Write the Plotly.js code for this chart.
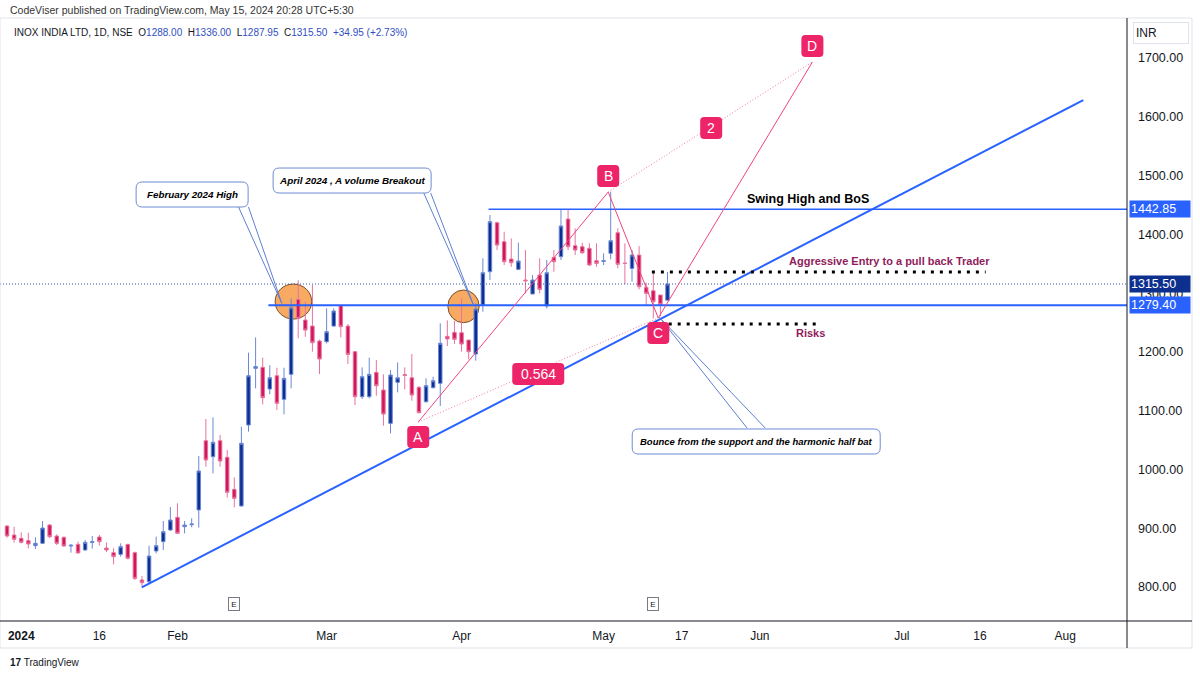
<!DOCTYPE html>
<html><head><meta charset="utf-8">
<script src="https://cdn.plot.ly/plotly-3.0.1.min.js"></script>
<style>html,body{margin:0;padding:0;background:#fff}#chart{width:1200px;height:675px}</style>
</head><body><div id="chart"></div>
<script>
// ---- candle data (INOX INDIA LTD, 1D, NSE) ----
const dates = ['2023-12-28','2023-12-29','2024-01-01','2024-01-02','2024-01-03','2024-01-04','2024-01-05','2024-01-08','2024-01-09','2024-01-10',
'2024-01-11','2024-01-12','2024-01-15','2024-01-16','2024-01-17','2024-01-18','2024-01-19','2024-01-20','2024-01-23','2024-01-24',
'2024-01-25','2024-01-29','2024-01-30','2024-01-31','2024-02-01','2024-02-02','2024-02-05','2024-02-06','2024-02-07','2024-02-08',
'2024-02-09','2024-02-12','2024-02-13','2024-02-14','2024-02-15','2024-02-16','2024-02-19','2024-02-20','2024-02-21','2024-02-22',
'2024-02-23','2024-02-26','2024-02-27','2024-02-28','2024-02-29','2024-03-01','2024-03-02','2024-03-04','2024-03-05','2024-03-06',
'2024-03-07','2024-03-11','2024-03-12','2024-03-13','2024-03-14','2024-03-15','2024-03-18','2024-03-19','2024-03-20','2024-03-21',
'2024-03-22','2024-03-26','2024-03-27','2024-03-28','2024-04-01','2024-04-02','2024-04-03','2024-04-04','2024-04-05','2024-04-08',
'2024-04-09','2024-04-10','2024-04-12','2024-04-15','2024-04-16','2024-04-18','2024-04-19','2024-04-22','2024-04-23','2024-04-24',
'2024-04-25','2024-04-26','2024-04-29','2024-04-30','2024-05-02','2024-05-03','2024-05-06','2024-05-07','2024-05-08','2024-05-09',
'2024-05-10','2024-05-13','2024-05-14','2024-05-15'];
const open = [903.8,888.5,882.9,878.9,870.4,874.3,905.5,886.8,884.6,869.8,
872.6,863.0,875.8,885.1,866.4,858.5,855.6,872.6,858.5,812.0,
809.1,861.3,877.2,897.0,918.6,902.7,906.0,931.1,1049.0,1021.8,
1049.0,1020.7,966.2,937.9,1075.6,1172.0,1173.7,1136.9,1159.5,1119.3,
1161.8,1289.4,1254.3,1244.0,1218.5,1217.4,1244.0,1278.6,1244.0,1200.4,
1123.8,1123.8,1165.2,1135.2,1078.4,1148.2,1161.5,1156.1,1139.7,1115.3,
1139.1,1146.5,1226.5,1233.3,1232.7,1220.2,1196.4,1279.8,1336.5,1419.8,
1387.5,1358.0,1340.4,1322.3,1298.5,1330.8,1278.1,1360.9,1362.0,1426.1,
1380.7,1379.0,1376.2,1355.2,1354.0,1367.7,1402.8,1351.0,1342.1,1364.8,
1309.8,1304.1,1296.8,1288.00];
const high = [905.0,902.7,893.1,892.5,884.6,912.3,907.2,889.7,885.7,873.2,
877.2,880.0,886.8,888.5,876.0,865.9,874.3,873.2,860.2,818.8,
870.4,885.7,912.3,936.2,942.4,912.3,916.9,1022.9,1085.9,1088.7,
1058.7,1033.1,986.6,1072.8,1198.7,1224.8,1190.2,1177.1,1173.1,1173.1,
1291.1,1322.0,1285.4,1313.8,1221.0,1274.1,1274.1,1279.5,1247.4,1201.5,
1173.7,1190.2,1186.2,1161.8,1169.2,1182.2,1173.7,1196.4,1142.0,1155.0,
1157.8,1248.6,1253.7,1253.1,1291.1,1220.2,1282.6,1359.2,1432.9,1421.5,
1404.5,1393.2,1385.8,1373.3,1330.8,1359.2,1356.3,1373.3,1442.5,1442.85,
1410.2,1385.8,1384.7,1384.7,1367.7,1472.5,1410.2,1384.7,1373.3,1380.1,
1317.8,1336.5,1297.0,1336.00];
const low = [884.0,875.5,874.3,865.8,864.7,873.2,882.9,871.5,868.7,858.5,
857.3,861.9,865.3,870.4,859.6,838.6,851.7,847.1,812.0,801.8,
806.3,857.3,863.0,895.3,890.2,891.4,901.6,901.0,1004.8,993.4,
1004.8,952.0,935.6,936.7,1064.3,1138.0,1110.8,1127.8,1101.1,1093.8,
1138.0,1223.1,1225.9,1200.4,1162.4,1214.5,1242.9,1224.8,1179.4,1109.6,
1119.8,1121.0,1125.5,1074.5,1061.4,1131.2,1136.3,1117.0,1095.5,1113.6,
1138.0,1107.9,1210.0,1213.4,1200.4,1187.3,1185.1,1268.4,1322.3,1373.3,
1347.8,1345.0,1339.3,1299.6,1298.5,1299.6,1274.1,1336.5,1356.3,1373.3,
1364.8,1366.5,1346.1,1345.0,1347.8,1357.5,1342.1,1315.5,1319.5,1306.4,
1278.1,1257.1,1261.0,1287.95];
const close = [886.8,881.2,876.0,873.2,874.3,900.4,885.7,874.3,869.8,871.0,
857.9,876.0,877.2,877.2,863.0,851.7,868.7,848.8,814.8,807.4,
852.8,870.4,894.2,914.0,891.4,905.5,907.2,997.4,1016.1,1046.2,
1014.4,961.1,950.9,1044.5,1159.5,1175.0,1122.1,1156.1,1112.5,1155.0,
1275.2,1257.1,1237.2,1215.7,1187.9,1234.4,1269.6,1242.9,1195.8,1123.8,
1157.8,1161.8,1142.5,1094.3,1160.7,1156.1,1160.0,1126.7,1096.6,1142.5,
1151.0,1214.6,1222.0,1221.4,1213.4,1200.4,1273.0,1334.8,1421.5,1381.8,
1353.5,1351.8,1354.6,1321.0,1322.3,1306.4,1334.8,1353.5,1414.2,1379.0,
1373.3,1368.8,1347.8,1350.6,1355.2,1389.2,1349.0,1350.6,1364.8,1311.0,
1299.6,1285.4,1280.55,1315.50];

// ---- axis ticks ----
const tickDates = ['2024-01-01','2024-01-16','2024-02-01','2024-03-01','2024-04-01','2024-05-02','2024-05-17','2024-06-03','2024-07-01','2024-07-16','2024-08-01'];
const tickText = ['<b>2024</b>','16','Feb','Mar','Apr','May','17','Jun','Jul','16','Aug'];
const priceTicks = [800,900,1000,1100,1200,1300,1400,1500,1600,1700];
const earningsDates = ['2024-02-13','2024-05-13'];

// ---- key levels ----
const levelPrices = [1442.85, 1279.40];
const levelStartBar = [67.8, 36.8];
const lastPrice = 1315.50;
const entryLevel = 1336.0, entryBars = [90.8, 137.8];
const riskLevel = 1247.5, riskBars = [91.9, 114.7];
const trendBars = [18.97, 151.55], trendPrices = [799.5, 1628.5];

// ---- harmonic half bat ----
const patternLabels = ['A','B','C','D'];
const patternBar = [57.9, 84.65, 91.7, 113.4];
const patternPrice = [1080.7, 1472.0, 1257.7, 1693.2];
const ratioLabels = ['0.564','2'];
const ratioBar = [74.8, 99.15];
const ratioPrice = [1162.4, 1580.9];

// ---- callouts ----
const calloutText = ['February 2024 High','April 2024 , A volume Breakout','Bounce from the support and the harmonic half bat'];
const calloutBar = [26.06, 48.59, 105.49];
const calloutPrice = [1467.8, 1491.6, 1047.6];
const calloutTargetBar = [38.69, 65.68, 91.87];
const calloutTargetPrice = [1282.7, 1279.8, 1258.9];
const calloutAnchorBar = [[32.6, 34.0], [58.68, 59.66], [104.2, 106.76]];
const calloutAnchorPrice = [1446.5, 1470.3, 1070.5];
const circleBars = [[37.75, 42.9], [62.07, 66.48]];
const circlePrices = [[1255.9, 1315.5], [1249.7, 1305.3]];

// build full trading-day list (future = weekdays)
const allDates = dates.slice();
{ let d = new Date(Date.UTC(2024,4,16));
  while (allDates.length < 170) { const wd = d.getUTCDay(); if (wd !== 0 && wd !== 6) allDates.push(d.toISOString().slice(0,10)); d.setUTCDate(d.getUTCDate()+1); } }
const barOf = s => allDates.indexOf(s);
const xIdx = dates.map((_, i) => i);

const XR = [-0.99, 157.7], YR = [742.2, 1768.1];
const UP = '#0d2f91', DN = '#d1175c', PINK = '#ee2468', BLUE = '#2962ff';

const trace = {
  type: 'candlestick', x: xIdx, open, high, low, close,
  increasing: {line: {color: '#6a88d4', width: 1}, fillcolor: UP},
  decreasing: {line: {color: '#e8739d', width: 1}, fillcolor: DN},
  whiskerwidth: 0, hoverinfo: 'skip'
};

const shapes = [];
// rounded box in pixel units around a data anchor
function roundBox(x, y, w, h, r, dy, fill, lineColor) {
  const a = -w/2, b = w/2, c = dy - h/2, d = dy + h/2;
  const path = `M${a+r},${c} L${b-r},${c} Q${b},${c} ${b},${c+r} L${b},${d-r} Q${b},${d} ${b-r},${d} L${a+r},${d} Q${a},${d} ${a},${d-r} L${a},${c+r} Q${a},${c} ${a+r},${c} Z`;
  shapes.push({type:'path', xref:'x', yref:'y', xsizemode:'pixel', ysizemode:'pixel', xanchor:x, yanchor:y, path,
    fillcolor:fill, line:{color: lineColor || fill, width: lineColor ? 1 : 0}, layer:'above'});
}
// orange circles
circleBars.forEach((b, i) => shapes.push({type:'circle', xref:'x', yref:'y', x0:b[0], x1:b[1], y0:circlePrices[i][0], y1:circlePrices[i][1],
  fillcolor:'rgba(247,163,86,0.92)', line:{color:'#7a4e26', width:1}, layer:'below'}));
// last price dotted line
shapes.push({type:'line', xref:'x', yref:'y', x0:XR[0], x1:XR[1], y0:lastPrice, y1:lastPrice, line:{color:'#3652b0', width:1, dash:'1px,2px'}});
// levels
levelPrices.forEach((p, i) => shapes.push({type:'line', xref:'x', yref:'y', x0:levelStartBar[i], x1:XR[1], y0:p, y1:p, line:{color:BLUE, width: i===0?1.5:2}}));
// trend line
shapes.push({type:'line', xref:'x', yref:'y', x0:trendBars[0], x1:trendBars[1], y0:trendPrices[0], y1:trendPrices[1], line:{color:BLUE, width:2}});
// entry / risk dotted
shapes.push({type:'line', xref:'x', yref:'y', x0:entryBars[0], x1:entryBars[1], y0:entryLevel, y1:entryLevel, line:{color:'#000', width:3, dash:'3px,6px'}});
shapes.push({type:'line', xref:'x', yref:'y', x0:riskBars[0], x1:riskBars[1], y0:riskLevel, y1:riskLevel, line:{color:'#000', width:3, dash:'3px,6px'}});
// harmonic lines
for (let i = 0; i < 3; i++) shapes.push({type:'line', xref:'x', yref:'y', x0:patternBar[i], x1:patternBar[i+1], y0:patternPrice[i], y1:patternPrice[i+1], line:{color:'#f0457e', width:1}});
[[0,2],[1,3]].forEach(([a,b]) => shapes.push({type:'line', xref:'x', yref:'y', x0:patternBar[a], x1:patternBar[b], y0:patternPrice[a], y1:patternPrice[b], line:{color:'#f47ca3', width:1, dash:'1px,2px'}}));
// callout lines
calloutAnchorBar.forEach((ab, i) => ab.forEach(bx => shapes.push({type:'line', xref:'x', yref:'y', x0:bx, y0:calloutAnchorPrice[i], x1:calloutTargetBar[i], y1:calloutTargetPrice[i], line:{color:'#5f7fcf', width:1}})));
// pane frame
const PX = 1127, PH = 603, PB = 621;
const px = v => v / PX, py = v => (PB - v) / PH;
shapes.push({type:'rect', xref:'paper', yref:'paper', x0:0, x1:px(1192), y0:py(648), y1:py(18), line:{color:'#e0e3eb', width:1}, fillcolor:'rgba(0,0,0,0)'});
shapes.push({type:'line', xref:'paper', yref:'paper', x0:1, x1:1, y0:py(648), y1:py(18), line:{color:'#131722', width:1}});
shapes.push({type:'line', xref:'paper', yref:'paper', x0:0, x1:px(1192), y0:0, y1:0, line:{color:'#131722', width:1}});

const annotations = [];
// header
annotations.push({xref:'paper', yref:'paper', x:px(8), y:py(10), xanchor:'left', yanchor:'middle', showarrow:false,
  text:'CodeViser published on TradingView.com, May 15, 2024 20:28 UTC+5:30', font:{size:10.5, color:'#333'}});
const VC = '#2f4fbf';
annotations.push({xref:'paper', yref:'paper', x:px(12), y:py(32), xanchor:'left', yanchor:'middle', showarrow:false,
  text:'INOX INDIA LTD, 1D, NSE  O<span style="color:'+VC+'">'+open[93].toFixed(2)+'</span>  H<span style="color:'+VC+'">'+high[93].toFixed(2)+
  '</span>  L<span style="color:'+VC+'">'+low[93].toFixed(2)+'</span>  C<span style="color:'+VC+'">'+close[93].toFixed(2)+
  '</span>  <span style="color:'+VC+'">+'+(close[93]-close[92]).toFixed(2)+' (+'+((close[93]-close[92])/close[92]*100).toFixed(2)+'%)</span>',
  font:{size:10, color:'#131722'}});
// INR box
annotations.push({xref:'paper', yref:'paper', x:px(1133), y:py(33), xanchor:'left', yanchor:'middle', showarrow:false, text:'INR',
  font:{size:12, color:'#131722'}, bordercolor:'#e0e3eb', borderwidth:1, borderpad:2, bgcolor:'#fff', width:50, height:16, align:'left'});
// price labels
const priceBoxes = [[levelPrices[0], BLUE], [lastPrice, '#0d2f8e'], [levelPrices[1], BLUE]];
priceBoxes.forEach(([p, c]) => annotations.push({xref:'paper', yref:'y', x:px(1129), y:p, xanchor:'left', yanchor:'middle', showarrow:false,
  text:p.toFixed(2), font:{size:12.5, color:'#fff'}, bgcolor:c, borderpad:1, width:58, height:14, align:'left'}));
// earnings markers
earningsDates.forEach(d => annotations.push({xref:'x', yref:'paper', x:barOf(d), y:py(611), showarrow:false, text:'E',
  font:{size:8, color:'#131722'}, bordercolor:'#787b86', borderwidth:1, borderpad:1, bgcolor:'#fff', width:8, height:10}));
// TradingView mark
annotations.push({xref:'paper', yref:'paper', x:px(8), y:py(662), xanchor:'left', yanchor:'middle', showarrow:false,
  text:'<b>17</b> TradingView', font:{size:10, color:'#131722'}});
// pattern labels (rounded pink boxes)
patternLabels.forEach((t, i) => {
  const below = (t === 'A' || t === 'C');
  const dy = below ? -15 : 16;
  roundBox(patternBar[i], patternPrice[i], 22, 22, 4, dy, PINK);
  annotations.push({xref:'x', yref:'y', x:patternBar[i], y:patternPrice[i], yshift: dy, showarrow:false, text:t,
    font:{size:14, color:'#fff'}});
});
ratioLabels.forEach((t, i) => {
  roundBox(ratioBar[i], ratioPrice[i], t.length > 1 ? 52 : 22, 22, 4, 0, PINK);
  annotations.push({xref:'x', yref:'y', x:ratioBar[i], y:ratioPrice[i], showarrow:false, text:t, font:{size:14, color:'#fff'}});
});
// callouts
const cw = [112, 158, 248];
const cf = [9.8, 9.9, 9.5];
calloutText.forEach((t, i) => {
  roundBox(calloutBar[i], calloutPrice[i], cw[i], 25, 6, 0, '#fff', '#6d8bd4');
  annotations.push({xref:'x', yref:'y', x:calloutBar[i], y:calloutPrice[i], showarrow:false,
    text:'<b><i>'+t+'</i></b>', font:{size:cf[i], color:'#000'}});
});
// texts
annotations.push({xref:'x', yref:'y', x:112.8, y:1460.1, showarrow:false, text:'<b>Swing High and BoS</b>', font:{size:12.5, color:'#000'}});
annotations.push({xref:'x', yref:'y', x:124.2, y:1354.6, showarrow:false, text:'<b>Aggressive Entry to a pull back Trader</b>', font:{size:11, color:'#8f1c5c'}});
annotations.push({xref:'x', yref:'y', x:113.1, y:1232.1, showarrow:false, text:'<b>Risks</b>', font:{size:11, color:'#8f1c5c'}});

const layout = {
  width:1200, height:675, margin:{l:0, r:73, t:18, b:54},
  paper_bgcolor:'#fff', plot_bgcolor:'#fff', showlegend:false, dragmode:false,
  font:{family:'Liberation Sans, Arial, sans-serif', color:'#131722', size:12},
  xaxis:{type:'linear', range:XR, tickvals:tickDates.map(barOf), ticktext:tickText, showgrid:false, zeroline:false,
    showline:false, ticks:'', rangeslider:{visible:false}, tickfont:{size:12, color:'#131722'}, ticklabelstandoff:6, fixedrange:true},
  yaxis:{side:'right', range:YR, tickvals:priceTicks, ticktext:priceTicks.map(v => v.toFixed(2)), showgrid:false, zeroline:false,
    showline:false, ticks:'', tickfont:{size:12.5, color:'#131722'}, ticklabelstandoff:10, fixedrange:true},
  shapes, annotations
};
Plotly.newPlot('chart', [trace], layout, {displayModeBar:false, staticPlot:true});
</script></body></html>
